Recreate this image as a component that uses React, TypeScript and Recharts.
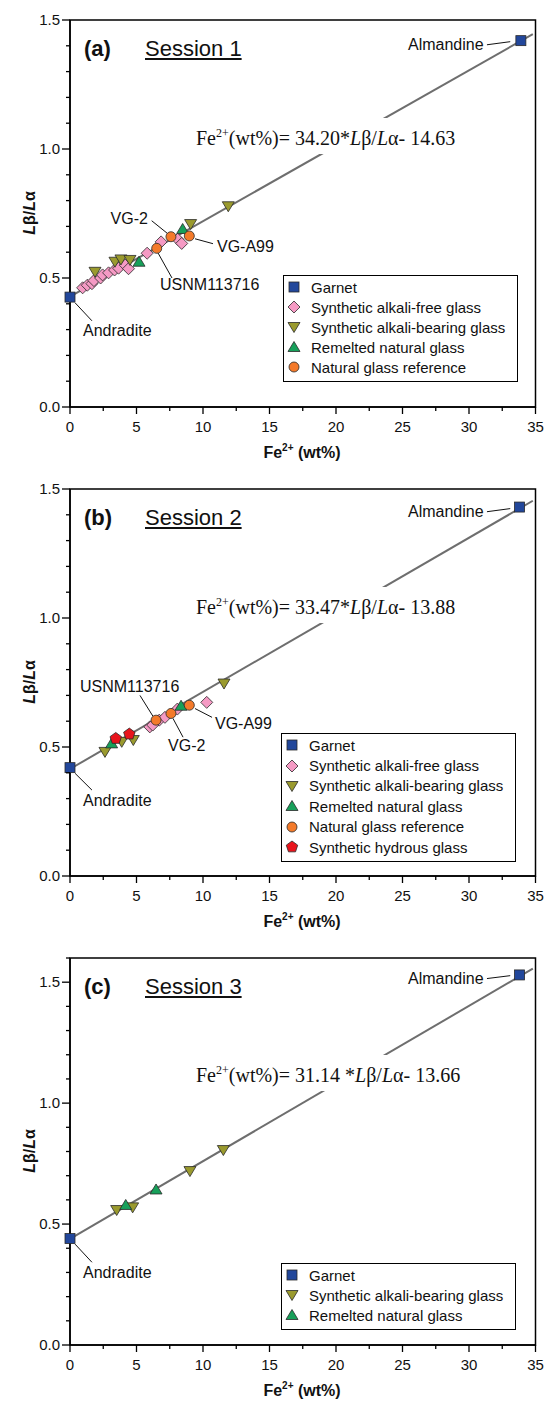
import React from "react";
import {
  ScatterChart,
  Scatter,
  XAxis,
  YAxis,
  ReferenceLine,
  ReferenceArea,
  ReferenceDot,
} from "recharts";

type P = { x: number; y: number };

// ---- Session 1 ----
const s1Garnet: P[] = [{ x: 0, y: 0.426 }, { x: 33.9, y: 1.42 }];
const s1AlkaliFree: P[] = [
  { x: 0.95, y: 0.462 }, { x: 1.3, y: 0.472 }, { x: 1.65, y: 0.478 },
  { x: 1.8, y: 0.49 }, { x: 2.3, y: 0.5 }, { x: 2.45, y: 0.512 },
  { x: 2.9, y: 0.52 }, { x: 3.35, y: 0.531 }, { x: 3.65, y: 0.538 },
  { x: 4.15, y: 0.55 }, { x: 4.4, y: 0.536 }, { x: 5.8, y: 0.596 },
  { x: 6.85, y: 0.64 }, { x: 8.1, y: 0.65 }, { x: 8.4, y: 0.634 },
];
const s1AlkaliBearing: P[] = [
  { x: 1.88, y: 0.524 }, { x: 3.38, y: 0.563 }, { x: 3.83, y: 0.572 },
  { x: 4.51, y: 0.57 }, { x: 9.07, y: 0.709 }, { x: 11.9, y: 0.778 },
];
const s1Remelted: P[] = [{ x: 5.19, y: 0.563 }, { x: 8.47, y: 0.69 }];
const s1Natural: P[] = [{ x: 6.52, y: 0.615 }, { x: 7.59, y: 0.66 }, { x: 8.97, y: 0.663 }];
const s1Fit = [34.2, 14.63];

// ---- Session 2 ----
const s2Garnet: P[] = [{ x: 0, y: 0.42 }, { x: 33.8, y: 1.43 }];
const s2AlkaliFree: P[] = [
  { x: 6.0, y: 0.578 }, { x: 6.22, y: 0.585 }, { x: 6.71, y: 0.604 },
  { x: 7.14, y: 0.615 }, { x: 8.07, y: 0.647 }, { x: 10.28, y: 0.673 },
];
const s2AlkaliBearing: P[] = [
  { x: 2.63, y: 0.481 }, { x: 3.89, y: 0.52 }, { x: 4.76, y: 0.527 }, { x: 11.58, y: 0.746 },
];
const s2Remelted: P[] = [{ x: 3.13, y: 0.514 }, { x: 8.35, y: 0.66 }];
const s2Natural: P[] = [{ x: 6.47, y: 0.604 }, { x: 7.59, y: 0.63 }, { x: 8.97, y: 0.662 }];
const s2Hydrous: P[] = [{ x: 3.44, y: 0.533 }, { x: 4.46, y: 0.55 }];
const s2Fit = [33.47, 13.88];

// ---- Session 3 ----
const s3Garnet: P[] = [{ x: 0, y: 0.44 }, { x: 33.8, y: 1.53 }];
const s3AlkaliBearing: P[] = [
  { x: 3.51, y: 0.558 }, { x: 4.71, y: 0.569 }, { x: 9.02, y: 0.719 }, { x: 11.53, y: 0.806 },
];
const s3Remelted: P[] = [{ x: 4.19, y: 0.579 }, { x: 6.47, y: 0.643 }];
const s3Fit = [31.14, 13.66];

const X_TICKS = [0, 2.5, 5, 7.5, 10, 12.5, 15, 17.5, 20, 22.5, 25, 27.5, 30, 32.5, 35];
const Y_TICKS_15 = [0, 0.1, 0.2, 0.3, 0.4, 0.5, 0.6, 0.7, 0.8, 0.9, 1.0, 1.1, 1.2, 1.3, 1.4, 1.5];
const Y_TICKS_16 = [...Y_TICKS_15, 1.6];

const SANS = '"Liberation Sans", Arial, Helvetica, sans-serif';
const SERIF = '"Liberation Serif", "Times New Roman", serif';

const W = 546;
const H = 469;
const PLOT_LEFT = 70;
const PLOT_BOTTOM = 407;

type Kind = "square" | "diamond" | "down" | "up" | "circle" | "pentagon";

const STYLE: Record<string, { kind: Kind; fill: string; name: string }> = {
  garnet: { kind: "square", fill: "#22479b", name: "Garnet" },
  free: { kind: "diamond", fill: "#f59ac4", name: "Synthetic alkali-free glass" },
  bearing: { kind: "down", fill: "#9a9a2e", name: "Synthetic alkali-bearing glass" },
  remelted: { kind: "up", fill: "#17a05a", name: "Remelted natural glass" },
  natural: { kind: "circle", fill: "#f47a2a", name: "Natural glass reference" },
  hydrous: { kind: "pentagon", fill: "#e8141c", name: "Synthetic hydrous glass" },
};

function Marker({ kind, fill, cx, cy }: { kind: Kind; fill: string; cx: number; cy: number }) {
  const st = { fill, stroke: "#2a2a2a", strokeWidth: 0.8 };
  if (kind === "square") return <rect x={cx - 5} y={cy - 5} width={10} height={10} {...st} />;
  if (kind === "diamond")
    return <polygon points={`${cx},${cy - 6} ${cx + 6},${cy} ${cx},${cy + 6} ${cx - 6},${cy}`} {...st} />;
  if (kind === "down")
    return <polygon points={`${cx - 6},${cy - 4.5} ${cx + 6},${cy - 4.5} ${cx},${cy + 5.5}`} {...st} />;
  if (kind === "up")
    return <polygon points={`${cx - 6},${cy + 4.5} ${cx + 6},${cy + 4.5} ${cx},${cy - 5.5}`} {...st} />;
  if (kind === "circle") return <circle cx={cx} cy={cy} r={5} {...st} />;
  const pts = [0, 1, 2, 3, 4]
    .map((i) => {
      const a = -Math.PI / 2 + (i * 2 * Math.PI) / 5;
      return `${cx + 6 * Math.cos(a)},${cy + 6 * Math.sin(a)}`;
    })
    .join(" ");
  return <polygon points={pts} {...st} />;
}

function XTick(props: any) {
  const { x, payload } = props;
  const v = payload.value as number;
  const major = v % 5 === 0;
  return (
    <g>
      <line x1={x} x2={x} y1={PLOT_BOTTOM} y2={PLOT_BOTTOM + (major ? 7 : 4)} stroke="#000" strokeWidth={1.3} />
      {major && (
        <text x={x} y={PLOT_BOTTOM + 25} textAnchor="middle" fontSize={15} fontFamily={SANS} fill="#111">
          {v}
        </text>
      )}
    </g>
  );
}

function YTick(props: any) {
  const { y, payload } = props;
  const v = payload.value as number;
  const major = Math.abs(v * 2 - Math.round(v * 2)) < 1e-6;
  return (
    <g>
      <line x1={PLOT_LEFT - (major ? 8 : 4)} x2={PLOT_LEFT} y1={y} y2={y} stroke="#000" strokeWidth={1.3} />
      {major && (
        <text x={PLOT_LEFT - 10} y={y + 5} textAnchor="end" fontSize={15} fontFamily={SANS} fill="#111">
          {v.toFixed(1)}
        </text>
      )}
    </g>
  );
}

function YTitle() {
  const cx = 29;
  const cy = 213;
  return (
    <text
      x={cx}
      y={cy}
      transform={`rotate(-90, ${cx}, ${cy})`}
      textAnchor="middle"
      dominantBaseline="central"
      fontSize={16}
      fontWeight="bold"
      fontFamily={SANS}
      fill="#111"
    >
      <tspan fontStyle="italic">L</tspan>β/<tspan fontStyle="italic">L</tspan>α
    </text>
  );
}

function XTitle() {
  return (
    <text x={302} y={PLOT_BOTTOM + 51} textAnchor="middle" fontSize={16} fontWeight="bold" fontFamily={SANS} fill="#111">
      Fe<tspan dy={-7} fontSize={10}>2+</tspan>
      <tspan dy={7}> (wt%)</tspan>
    </text>
  );
}

type Label = { text: string; x: number; y: number; anchor: "start" | "end" | "middle" };
type Leader = [number, number, number, number];

type Panel = {
  tag: string;
  session: string;
  yMax: number;
  yTicks: number[];
  fit: number[];
  eqText: string;
  eqTop: number;
  series: { key: string; data: P[] }[];
  labels: Label[];
  leaders: Leader[];
  legend: { left: number; top: number; rowH: number };
};

const panels: Panel[] = [
  {
    tag: "(a)",
    session: "Session 1",
    yMax: 1.5,
    yTicks: Y_TICKS_15,
    fit: s1Fit,
    eqText: "34.20*",
    eqTop: 118,
    series: [
      { key: "garnet", data: s1Garnet },
      { key: "free", data: s1AlkaliFree },
      { key: "bearing", data: s1AlkaliBearing },
      { key: "remelted", data: s1Remelted },
      { key: "natural", data: s1Natural },
    ],
    labels: [
      { text: "Almandine", x: 31.1, y: 1.404, anchor: "end" },
      { text: "Andradite", x: 0.98, y: 0.296, anchor: "start" },
      { text: "VG-2", x: 5.86, y: 0.73, anchor: "end" },
      { text: "VG-A99", x: 11.05, y: 0.621, anchor: "start" },
      { text: "USNM113716", x: 6.77, y: 0.476, anchor: "start" },
    ],
    leaders: [
      [31.35, 1.404, 33.1, 1.416],
      [0.38, 0.404, 1.65, 0.334],
      [6.14, 0.722, 7.39, 0.67],
      [9.4, 0.652, 10.75, 0.633],
      [6.62, 0.597, 7.67, 0.5],
    ],
    legend: { left: 283, top: 275, rowH: 20 },
  },
  {
    tag: "(b)",
    session: "Session 2",
    yMax: 1.5,
    yTicks: Y_TICKS_15,
    fit: s2Fit,
    eqText: "33.47*",
    eqTop: 118,
    series: [
      { key: "garnet", data: s2Garnet },
      { key: "free", data: s2AlkaliFree },
      { key: "bearing", data: s2AlkaliBearing },
      { key: "remelted", data: s2Remelted },
      { key: "natural", data: s2Natural },
      { key: "hydrous", data: s2Hydrous },
    ],
    labels: [
      { text: "Almandine", x: 31.1, y: 1.412, anchor: "end" },
      { text: "Andradite", x: 0.98, y: 0.291, anchor: "start" },
      { text: "USNM113716", x: 0.75, y: 0.735, anchor: "start" },
      { text: "VG-2", x: 7.37, y: 0.507, anchor: "start" },
      { text: "VG-A99", x: 10.9, y: 0.59, anchor: "start" },
    ],
    leaders: [
      [31.35, 1.412, 33.1, 1.424],
      [0.38, 0.398, 1.65, 0.333],
      [5.26, 0.7, 6.24, 0.619],
      [7.74, 0.611, 8.5, 0.538],
      [9.4, 0.649, 10.68, 0.615],
    ],
    legend: { left: 281, top: 264, rowH: 20.4 },
  },
  {
    tag: "(c)",
    session: "Session 3",
    yMax: 1.6,
    yTicks: Y_TICKS_16,
    fit: s3Fit,
    eqText: "31.14 *",
    eqTop: 117,
    series: [
      { key: "garnet", data: s3Garnet },
      { key: "bearing", data: s3AlkaliBearing },
      { key: "remelted", data: s3Remelted },
    ],
    labels: [
      { text: "Almandine", x: 31.1, y: 1.515, anchor: "end" },
      { text: "Andradite", x: 0.98, y: 0.3, anchor: "start" },
    ],
    leaders: [
      [31.35, 1.515, 33.1, 1.527],
      [0.38, 0.417, 1.65, 0.342],
    ],
    legend: { left: 281, top: 325, rowH: 20 },
  },
];

function LegendBox({ keys, left, top, rowH }: { keys: string[]; left: number; top: number; rowH: number }) {
  return (
    <div
      style={{
        position: "absolute",
        left,
        top,
        width: 235,
        border: "1px solid #000",
        background: "#fff",
        padding: "1px 0 4px 3px",
        boxSizing: "border-box",
        fontFamily: SANS,
        fontSize: 15,
        color: "#111",
      }}
    >
      {keys.map((k) => (
        <div key={k} style={{ display: "flex", alignItems: "center", height: rowH, whiteSpace: "nowrap" }}>
          <svg width={14} height={14} style={{ marginRight: 10, flex: "none" }}>
            <Marker kind={STYLE[k].kind} fill={STYLE[k].fill} cx={7} cy={7} />
          </svg>
          {STYLE[k].name}
        </div>
      ))}
    </div>
  );
}

function SessionPanel({ p, height }: { p: Panel; height: number }) {
  const [slope, icpt] = p.fit;
  const xEnd = 34.8;
  return (
    <div style={{ position: "relative", width: W, height }}>
      <ScatterChart width={W} height={H} margin={{ top: 20, right: 10.5, bottom: 12, left: 0 }}>
        <XAxis
          type="number"
          dataKey="x"
          domain={[0, 35]}
          ticks={X_TICKS}
          interval={0}
          tick={<XTick />}
          tickLine={false}
          axisLine={{ stroke: "#000", strokeWidth: 1.5 }}
          height={50}
          label={<XTitle />}
        />
        <YAxis
          type="number"
          dataKey="y"
          domain={[0, p.yMax]}
          ticks={p.yTicks}
          interval={0}
          tick={<YTick />}
          tickLine={false}
          axisLine={{ stroke: "#000", strokeWidth: 1.5 }}
          width={70}
          label={<YTitle />}
        />
        <ReferenceArea x1={0} x2={35} y1={0} y2={p.yMax} fill="none" stroke="#000" strokeWidth={1.5} />
        <ReferenceLine
          segment={[
            { x: 0, y: icpt / slope },
            { x: xEnd, y: (xEnd + icpt) / slope },
          ]}
          stroke="#6e6e6e"
          strokeWidth={2}
        />
        {p.leaders.map((l, i) => (
          <ReferenceLine
            key={`ld${i}`}
            segment={[
              { x: l[0], y: l[1] },
              { x: l[2], y: l[3] },
            ]}
            stroke="#111"
            strokeWidth={1}
          />
        ))}
        {p.series.map((s) => (
          <Scatter
            key={s.key}
            name={STYLE[s.key].name}
            data={s.data}
            isAnimationActive={false}
            shape={(sp: any) => <Marker kind={STYLE[s.key].kind} fill={STYLE[s.key].fill} cx={sp.cx} cy={sp.cy} />}
          />
        ))}
        {p.labels.map((l) => (
          <ReferenceDot
            key={l.text}
            x={l.x}
            y={l.y}
            r={0}
            shape={(dp: any) => (
              <text
                x={dp.cx}
                y={dp.cy}
                textAnchor={l.anchor}
                dominantBaseline="central"
                fontSize={16}
                fontFamily={SANS}
                fill="#111"
              >
                {l.text}
              </text>
            )}
          />
        ))}
      </ScatterChart>
      <div
        style={{
          position: "absolute",
          left: 84,
          top: 36,
          fontFamily: SANS,
          fontSize: 22,
          lineHeight: "26px",
          color: "#111",
          whiteSpace: "nowrap",
        }}
      >
        <b>{p.tag}</b>
        <span style={{ position: "absolute", left: 61, textDecoration: "underline" }}>{p.session}</span>
      </div>
      <div
        style={{
          position: "absolute",
          left: 194,
          top: p.eqTop,
          height: 36,
          boxSizing: "border-box",
          paddingTop: 9,
          paddingLeft: 2,
          paddingRight: 2,
          background: "#fff",
          fontFamily: SERIF,
          fontSize: 20,
          lineHeight: "22px",
          color: "#111",
          whiteSpace: "nowrap",
        }}
      >
        Fe<span style={{ fontSize: 12, position: "relative", top: -8 }}>2+</span>(wt%)= {p.eqText}
        <i>L</i>β/<i>L</i>α- {p.fit[1].toFixed(2)}
      </div>
      <LegendBox keys={p.series.map((s) => s.key)} left={p.legend.left} top={p.legend.top} rowH={p.legend.rowH} />
    </div>
  );
}

export default function App() {
  return (
    <div style={{ position: "absolute", left: 0, top: 0, width: W, background: "#fff" }}>
      <SessionPanel p={panels[0]} height={H} />
      <SessionPanel p={panels[1]} height={H} />
      <SessionPanel p={panels[2]} height={463} />
    </div>
  );
}
